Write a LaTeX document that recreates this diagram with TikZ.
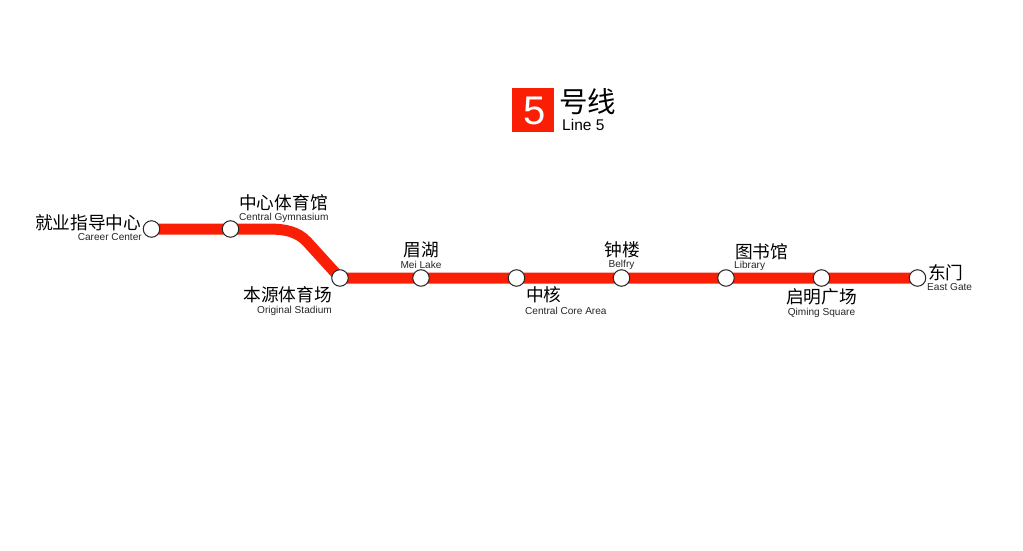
\documentclass[tikz,border=0pt]{standalone}
\usepackage{fontspec}
\setmainfont{Liberation Sans}
\newfontfamily\cjk{Noto Sans CJK SC}
\tikzset{
  x=1pt,y=-1pt,
  stn/.style={circle,draw=black!85,line width=1pt,fill=white,minimum size=16.5pt,inner sep=0pt},
  zh/.style={inner sep=0pt,font=\cjk\fontsize{17.7}{18}\selectfont,text=black},
  en/.style={inner sep=0pt,font=\fontsize{10.1}{11}\selectfont,text=black!85},
  route/.style={draw=linered,line width=11pt}
}
\definecolor{linered}{HTML}{FA1E05}
\begin{document}
\begin{tikzpicture}
\useasboundingbox (0,0) rectangle (1023,551);
\node[fill=linered,minimum width=42pt,minimum height=44pt,inner sep=0pt] (badge) at (533,110) {};
\node[inner sep=0pt,text=white,font=\fontsize{40}{42}\selectfont] (num) at (534.5,110.5) {5};
\node[inner sep=0pt,anchor=west,font=\cjk\fontsize{28.5}{29}\selectfont] (title) at (559,102) {号线};
\node[inner sep=0pt,anchor=west,font=\fontsize{15.5}{16}\selectfont] (titleen) at (562,125) {Line 5};

\coordinate (c1) at (268,229);
\coordinate (c2) at (307,241.7);
\coordinate (s3) at (340,278);
\draw[route] (151,229) -- (c1) .. controls (284,229) and (297,231) .. (c2) -- (s3) -- (917,278);

\node[stn] (a) at (151.5,229) {};
\node[stn] (b) at (230.5,229) {};
\node[stn] (c) at (340,278) {};
\node[stn] (d) at (421,278) {};
\node[stn] (e) at (516.5,278) {};
\node[stn] (f) at (621.5,278) {};
\node[stn] (g) at (726,278) {};
\node[stn] (h) at (821.5,278) {};
\node[stn] (i) at (917.5,278) {};

\node[zh,anchor=east] (az) at (141.5,223) {就业指导中心};
\node[en,anchor=east] (ae) at (142,237.5) {Career Center};
\node[zh,anchor=west] (bz) at (239,203) {中心体育馆};
\node[en,anchor=west] (be) at (239,218) {Central Gymnasium};
\node[zh,anchor=east] (cz) at (332,295) {本源体育场};
\node[en,anchor=east] (ce) at (332,311) {Original Stadium};
\node[zh] (dz) at (421.5,250) {眉湖};
\node[en] (de) at (421,265) {Mei Lake};
\node[zh,anchor=west] (ez) at (526,295) {中核};
\node[en,anchor=west] (ee) at (525,310.5) {Central Core Area};
\node[zh] (fz) at (622,250) {钟楼};
\node[en] (fe) at (621.5,265) {Belfry};
\node[zh,anchor=west] (gz) at (735,252) {图书馆};
\node[en,anchor=west] (ge) at (734,266) {Library};
\node[zh] (hz) at (821.5,297) {启明广场};
\node[en] (he) at (821.5,313) {Qiming Square};
\node[zh,anchor=west] (iz) at (928,273) {东门};
\node[en,anchor=west] (ie) at (927,287) {East Gate};
\end{tikzpicture}
\end{document}
